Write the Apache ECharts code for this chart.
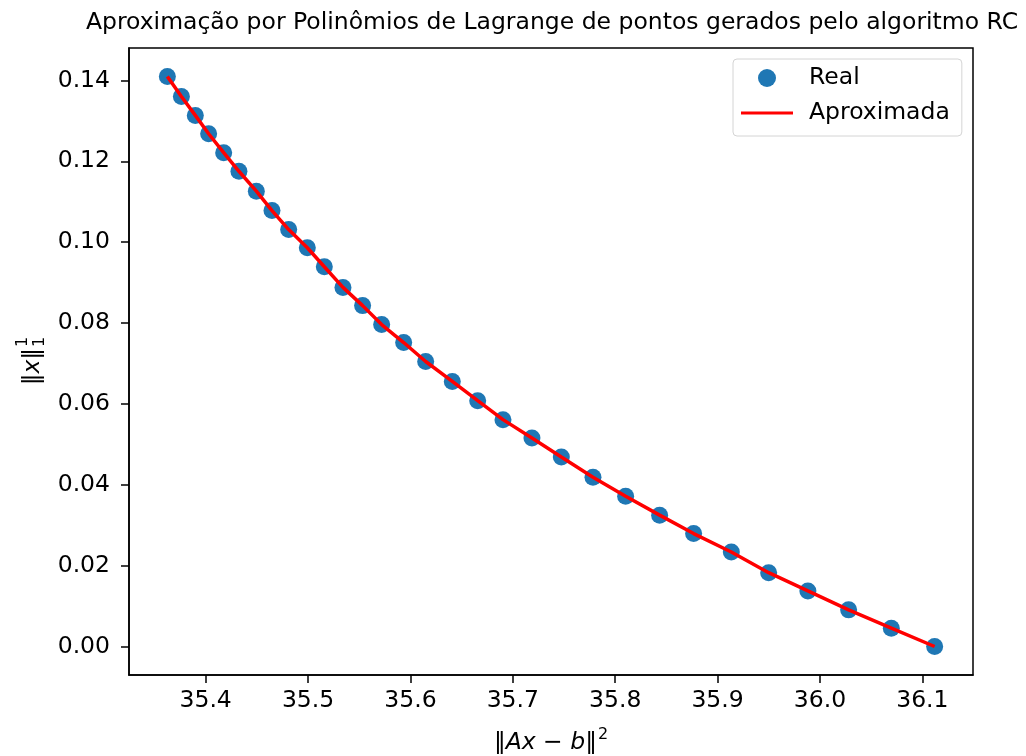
<!DOCTYPE html>
<html>
<head>
<meta charset="utf-8">
<script src="https://cdn.jsdelivr.net/npm/echarts@6/dist/echarts.min.js"></script>
<style>
  html, body { margin: 0; padding: 0; background: #fff; }
  #chart { width: 1026px; height: 756px; }
</style>
</head>
<body>
<div id="chart"></div>
<script>
// Points produced by the RC algorithm: ||Ax - b||^2 against ||x||_1
const residualNorm = [
  35.3626, 35.3763, 35.3899, 35.4029, 35.4176, 35.4325, 35.4495, 35.4648,
  35.4811, 35.4993, 35.5159, 35.5341, 35.5533, 35.5719, 35.5934, 35.6149,
  35.6409, 35.6657, 35.6904, 35.7187, 35.7474, 35.7783, 35.8102, 35.8434,
  35.8766, 35.9134, 35.9499, 35.9882, 36.0280, 36.0697, 36.1120
];
const solutionNorm = [
  0.14098, 0.13605, 0.13136, 0.12682, 0.12213, 0.11754, 0.11261, 0.10782,
  0.10313, 0.09862, 0.09393, 0.08882, 0.08431, 0.07962, 0.07518, 0.07049,
  0.06556, 0.06079, 0.05611, 0.05157, 0.04688, 0.04187, 0.03718, 0.03249,
  0.02793, 0.02337, 0.01826, 0.01374, 0.00906, 0.00454, 0.00000
];
// Lagrange interpolating polynomial evaluated at the same abscissae
const lagrangeY = solutionNorm.slice();

const xTicks = [35.4, 35.5, 35.6, 35.7, 35.8, 35.9, 36.0, 36.1];
const yTicks = [0.00, 0.02, 0.04, 0.06, 0.08, 0.10, 0.12, 0.14];

const FONT = "'DejaVu Sans', sans-serif";
const FS = 23.5;
const chart = echarts.init(document.getElementById('chart'), null, { renderer: 'canvas' });

// axis limits with 5% padding around the data
const xmin = Math.min(...residualNorm), xmax = Math.max(...residualNorm);
const ymin = Math.min(...solutionNorm), ymax = Math.max(...solutionNorm);
const xPad = (xmax - xmin) * 0.05, yPad = (ymax - ymin) * 0.05;

const realData = residualNorm.map((x, i) => [x, solutionNorm[i]]);
const approxData = residualNorm.map((x, i) => [x, lagrangeY[i]]);

// rotated y-axis label  ||x||_1^1 built from pieces
const mctx = document.createElement('canvas').getContext('2d');
function tw(s, font) { mctx.font = font; return mctx.measureText(s).width; }
const fN = FS + "px 'DejaVu Sans'", fI = "italic " + FS + "px 'DejaVu Sans'", fS = "16px 'DejaVu Sans'";
const wBar = tw('‖', fN), wX = tw('x', fI), wS = tw('1', fS);
const total = wBar * 2 + wX + wS + 1;
let cx = -total / 2;
const yLabelParts = [];
function addPart(text, font, dx, dy) {
  yLabelParts.push({ type: 'text', x: cx + dx, y: dy,
    style: { text: text, font: font, fill: '#000', align: 'left', verticalAlign: 'middle' } });
}
addPart('‖', fN, 0, 0); cx += wBar;
addPart('x', fI, 0, 0); cx += wX;
addPart('‖', fN, 0, 0); cx += wBar + 1;
addPart('1', fS, 0, -10);
addPart('1', fS, 0, 7);

chart.setOption({
  animation: false,
  backgroundColor: '#fff',
  title: {
    text: 'Aproximação por Polinômios de Lagrange de pontos gerados pelo algoritmo RC',
    left: 547, top: 6, textAlign: 'center',
    textStyle: { fontFamily: FONT, fontSize: 23.5, fontWeight: 'normal', color: '#000' }
  },
  grid: { left: 129, right: 53, top: 48, bottom: 81, show: true, outerBoundsMode: 'none',
          containLabel: false,
          borderColor: '#000', borderWidth: 1.5, backgroundColor: 'transparent' },
  legend: {
    orient: 'vertical', left: 733, top: 59,
    padding: [7, 12, 11, 8], itemGap: 11, itemWidth: 52, itemHeight: 18,
    backgroundColor: '#fff', borderColor: '#d4d4d4', borderWidth: 1, borderRadius: 4,
    formatter: '{t|{name}}',
    textStyle: { fontFamily: FONT, fontSize: FS, color: '#000',
                 rich: { t: { fontFamily: FONT, fontSize: FS, color: '#000', padding: [0, 0, 0, 11] } } },
    data: [
      { name: 'Real', icon: 'circle' },
      { name: 'Aproximada', icon: 'path://M0,0L100,0L100,6L0,6Z', itemStyle: { color: '#ff0000' } }
    ]
  },
  xAxis: {
    type: 'value', min: xmin - xPad, max: xmax + xPad,
    name: '{n|‖}{i|Ax}{n| − }{i|b}{n|‖}{s|2}',
    nameLocation: 'middle', nameGap: 52,
    nameTextStyle: {
      rich: {
        n: { fontFamily: FONT, fontSize: FS, color: '#000' },
        i: { fontFamily: FONT, fontSize: FS, fontStyle: 'italic', color: '#000' },
        s: { fontFamily: FONT, fontSize: 16, color: '#000', padding: [0, 0, 15, 1] }
      }
    },
    axisLine: { show: true, onZero: false, lineStyle: { color: '#000', width: 1.5 } },
    axisTick: { show: true, length: 8, inside: false, customValues: xTicks, lineStyle: { color: '#000', width: 1.5 } },
    axisLabel: { customValues: xTicks, margin: 14, fontFamily: FONT, fontSize: FS, color: '#000',
                 formatter: v => v.toFixed(1) },
    splitLine: { show: false }
  },
  yAxis: {
    type: 'value', min: ymin - yPad, max: ymax + yPad,
    axisLine: { show: true, onZero: false, lineStyle: { color: '#000', width: 1.5 } },
    axisTick: { show: true, length: 8, inside: false, customValues: yTicks, lineStyle: { color: '#000', width: 1.5 } },
    axisLabel: { customValues: yTicks, margin: 19, fontFamily: FONT, fontSize: FS, color: '#000',
                 formatter: v => v.toFixed(2) },
    splitLine: { show: false }
  },
  graphic: [{
    type: 'group', x: 33, y: 361, rotation: Math.PI / 2,
    children: yLabelParts
  }],
  series: [
    {
      name: 'Real', type: 'scatter', data: realData,
      symbol: 'circle', symbolSize: 17,
      itemStyle: { color: '#1f77b4', opacity: 1 }, z: 2
    },
    {
      name: 'Aproximada', type: 'line', data: approxData,
      symbol: 'none', showSymbol: false, smooth: false,
      lineStyle: { color: '#ff0000', width: 3.5 },
      itemStyle: { color: '#ff0000' }, z: 3
    }
  ]
});
</script>
</body>
</html>
